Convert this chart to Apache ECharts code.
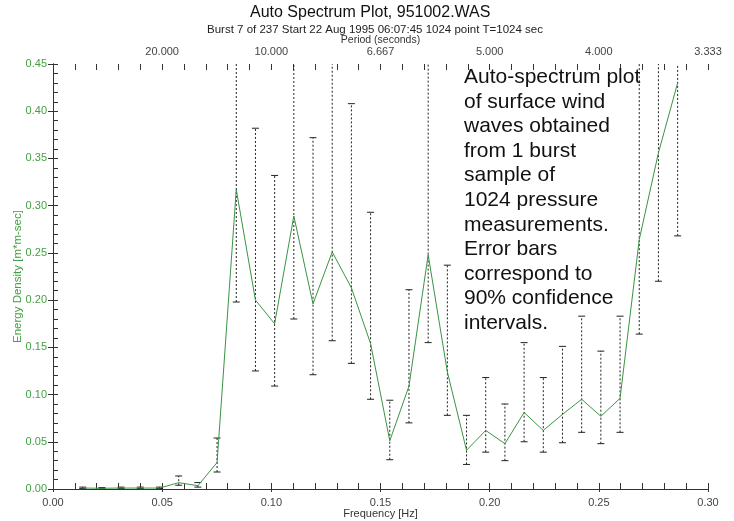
<!DOCTYPE html>
<html><head><meta charset="utf-8">
<script src="https://cdn.jsdelivr.net/npm/echarts@6/dist/echarts.min.js"></script>
<style>html,body{margin:0;padding:0;background:#fff}#c{width:734px;height:521px}</style>
</head><body><div id="c"></div>
<script>
// Frequency of each spectral band [Hz]
const freq = [0.01362,0.02241,0.03120,0.03999,0.04878,0.05757,0.06636,0.07515,
  0.08394,0.09272,0.10151,0.11030,0.11909,0.12788,0.13667,0.14546,
  0.15425,0.16304,0.17183,0.18062,0.18940,0.19819,0.20698,0.21577,
  0.22456,0.23335,0.24214,0.25093,0.25972,0.26851,0.27730,0.28609];
// Energy density [m*m-sec]
const energy = [0.001,0.0008,0.001,0.001,0.001,0.0067,0.0035,0.028,
  0.317,0.200,0.175,0.289,0.196,0.251,0.213,0.154,
  0.051,0.109,0.248,0.124,0.041,0.062,0.048,0.081,
  0.062,0.079,0.095,0.077,0.096,0.264,0.356,0.430];
// 90% confidence interval bounds
const lower = [0.0004,0.0003,0.0005,0.0005,0.0005,0.004,0.002,0.018,
  0.198,0.125,0.109,0.180,0.121,0.157,0.133,0.095,
  0.031,0.070,0.155,0.078,0.026,0.039,0.030,0.050,
  0.039,0.049,0.060,0.048,0.060,0.164,0.220,0.268];
const upper = [0.002,0.0015,0.002,0.002,0.002,0.0138,0.0068,0.054,
  0.61,0.382,0.332,0.555,0.372,0.48,0.408,0.293,
  0.094,0.211,0.475,0.237,0.078,0.118,0.090,0.155,
  0.118,0.151,0.183,0.146,0.183,0.505,0.68,0.82];

const titleText = 'Auto Spectrum Plot, 951002.WAS';
const subText = 'Burst 7 of 237 Start 22 Aug 1995 06:07:45 1024 point T=1024 sec';
const noteText = 'Auto-spectrum plot\nof surface wind\nwaves obtained\nfrom 1 burst\nsample of\n1024 pressure\nmeasurements.\nError bars\ncorrespond to\n90% confidence\nintervals.';

const FONT = '"Liberation Sans", Arial, sans-serif';
const GREEN_TXT = '#44a044';
const GREEN_LINE = '#3a9444';
const AX = '#333';

const chart = echarts.init(document.getElementById('c'), null, {renderer: 'canvas'});

function xBase(extra) {
  return Object.assign({
    type: 'value', min: 0, max: 0.3, splitLine: {show: false}
  }, extra);
}

const option = {
  animation: false,
  backgroundColor: '#fff',
  grid: {left: 53, right: 26, top: 64, bottom: 32, containLabel: false, outerBoundsMode: 'none'},
  xAxis: [
    xBase({position: 'bottom', interval: 0.05,
      axisLine: {lineStyle: {color: AX}},
      axisTick: {inside: false, length: 3, lineStyle: {color: AX}},
      axisLabel: {margin: 8, color: '#444', fontSize: 11, fontFamily: FONT,
        formatter: v => v.toFixed(2)},
      name: 'Frequency [Hz]', nameLocation: 'middle', nameGap: 19, nameMoveOverlap: false,
      nameTextStyle: {color: '#333', fontSize: 11, fontFamily: FONT}}),
    xBase({position: 'bottom', interval: 0.01,
      axisLine: {show: false},
      axisTick: {inside: true, length: 6, lineStyle: {color: AX}},
      axisLabel: {show: false}}),
    xBase({position: 'top', interval: 0.05,
      axisLine: {lineStyle: {color: AX}},
      axisTick: {inside: false, length: 4, lineStyle: {color: AX}},
      axisLabel: {margin: 7, color: '#444', fontSize: 11, fontFamily: FONT,
        formatter: v => v < 1e-9 ? '' : (1 / v).toFixed(3)},
      name: 'Period (seconds)', nameLocation: 'middle', nameGap: 18, nameMoveOverlap: false,
      nameTextStyle: {color: '#333', fontSize: 10.5, fontFamily: FONT}}),
    xBase({position: 'top', interval: 0.01,
      axisLine: {show: false},
      axisTick: {inside: true, length: 6, lineStyle: {color: AX}},
      axisLabel: {show: false}})
  ],
  yAxis: [
    {type: 'value', min: 0, max: 0.45, interval: 0.05, position: 'left',
      splitLine: {show: false},
      axisLine: {show: true, lineStyle: {color: AX}},
      axisTick: {show: true, inside: false, length: 5, lineStyle: {color: AX}},
      axisLabel: {margin: 6, color: GREEN_TXT, fontSize: 11, fontFamily: FONT,
        formatter: v => v.toFixed(2)},
      name: 'Energy Density [m*m-sec]', nameLocation: 'middle', nameGap: 29, nameMoveOverlap: false,
      nameTextStyle: {color: GREEN_TXT, fontSize: 11.5, fontFamily: FONT}},
    {type: 'value', min: 0, max: 0.45, interval: 0.01, position: 'left',
      splitLine: {show: false},
      axisLine: {show: false},
      axisTick: {show: true, inside: true, length: 5, lineStyle: {color: AX}},
      axisLabel: {show: false}},
    {type: 'value', min: 0, max: 0.45, position: 'right',
      splitLine: {show: false},
      axisLine: {show: true, lineStyle: {color: AX}},
      axisTick: {show: false}, axisLabel: {show: false}}
  ],
  graphic: [
    {type: 'text', left: 250, top: 5, z: 10,
      style: {text: titleText, fill: '#111', font: '16px ' + FONT}},
    {type: 'text', left: 207, top: 24, z: 10,
      style: {text: subText, fill: '#222', font: '11.5px ' + FONT}},
    {type: 'text', left: 464, top: 65, z: 10,
      style: {text: noteText, fill: '#111', font: '21px ' + FONT, lineHeight: 24.6}}
  ],
  series: [
    {type: 'custom', xAxisIndex: 0, yAxisIndex: 0, clip: true, z: 2,
      data: freq.map((f, i) => [f, lower[i], upper[i]]),
      encode: {x: 0, y: [1, 2]},
      renderItem: function (params, api) {
        const x = api.value(0);
        const pLo = api.coord([x, api.value(1)]);
        const pHi = api.coord([x, api.value(2)]);
        const hw = 3.5;
        const st = {stroke: '#222', lineWidth: 1};
        return {type: 'group', children: [
          {type: 'line', shape: {x1: pLo[0], y1: pLo[1], x2: pHi[0], y2: pHi[1]},
            style: Object.assign({lineDash: [2, 2]}, st)},
          {type: 'line', shape: {x1: pLo[0] - hw, y1: pLo[1], x2: pLo[0] + hw, y2: pLo[1]}, style: st},
          {type: 'line', shape: {x1: pHi[0] - hw, y1: pHi[1], x2: pHi[0] + hw, y2: pHi[1]}, style: st}
        ]};
      }},
    {type: 'line', xAxisIndex: 0, yAxisIndex: 0, z: 3,
      data: freq.map((f, i) => [f, energy[i]]),
      symbol: 'none', lineStyle: {color: GREEN_LINE, width: 1}}
  ]
};
chart.setOption(option);
</script>
</body></html>
